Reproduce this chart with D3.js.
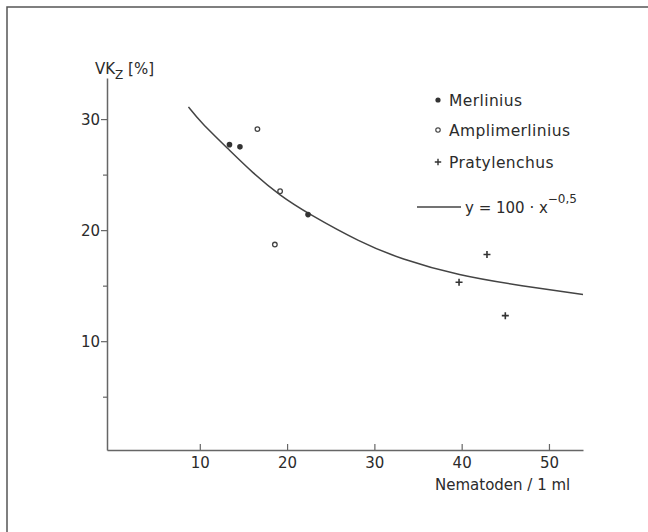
<!DOCTYPE html>
<html>
<head>
<meta charset="utf-8">
<script src="https://cdn.jsdelivr.net/npm/d3@7"></script>
<style>
  body { margin: 0; background: #fff; }
  text { font-family: "DejaVu Sans", sans-serif; fill: #2b2b2b; }
</style>
</head>
<body>
<script>
var width = 648;
var height = 532;

// data
var merlinius = [[13.4, 27.7], [14.6, 27.5], [22.4, 21.4]];
var amplimerlinius = [[16.6, 29.1], [19.2, 23.5], [18.6, 18.7]];
var pratylenchus = [[42.9, 17.8], [39.7, 15.3], [45.0, 12.3]];
// fitted curve y = 100 * x^-0.5 as printed
var curveX = [8.7, 10.0, 13.4, 16.0, 19.2, 22.4, 28.4, 33.0, 39.7, 46.7, 53.9];
var curveY = [31.1, 29.8, 27.2, 25.2, 23.1, 21.5, 18.9, 17.4, 15.9, 15.0, 14.2];
var xTicks = [10, 20, 30, 40, 50];
var yTicks = [5, 10, 15, 20, 25, 30];
var yLabels = [10, 20, 30];
var legendNames = ["Merlinius", "Amplimerlinius", "Pratylenchus"];

var svg = d3.select("body").append("svg")
  .attr("width", width).attr("height", height);

// frame
svg.append("path")
  .attr("d", "M7,532 V7 H648")
  .style("fill", "none").style("stroke", "#555").style("stroke-width", 1.5);

var x = d3.scaleLinear().domain([-0.63, 53.9]).range([107, 583]);
var y = d3.scaleLinear().domain([0.2, 33.7]).range([450, 78]);

// x axis, ticks pointing up
var xAxis = svg.append("g")
  .attr("transform", "translate(0,450)")
  .call(d3.axisBottom(x).tickValues(xTicks).tickSizeInner(-6).tickSizeOuter(0).tickPadding(7));
xAxis.select(".domain").style("stroke", "#666").style("stroke-width", 1.5);
xAxis.selectAll(".tick line").style("stroke", "#666").style("stroke-width", 1.2);
xAxis.selectAll("text").style("font-size", "15px").style("fill", "#2b2b2b")
  .attr("font-family", null);

// y axis
var yAxis = svg.append("g")
  .attr("transform", "translate(107,0)")
  .call(d3.axisLeft(y).tickValues(yTicks).tickSizeOuter(0).tickPadding(3)
    .tickFormat(function (d) { return yLabels.indexOf(d) >= 0 ? d : ""; }));
yAxis.select(".domain").style("stroke", "#666").style("stroke-width", 1.5);
yAxis.selectAll(".tick line")
  .attr("x2", function (d) { return yLabels.indexOf(d) >= 0 ? -6 : -4; })
  .style("stroke", "#666").style("stroke-width", 1.2);
yAxis.selectAll("text").style("font-size", "15px").style("fill", "#2b2b2b")
  .attr("x", -7).attr("dy", "0.36em");

// axis titles
var yt = svg.append("text").attr("x", 95).attr("y", 74).style("font-size", "15px");
yt.append("tspan").text("VK");
yt.append("tspan").attr("dy", 5).style("font-size", "12px").text("Z");
yt.append("tspan").attr("dy", -5).text(" [%]");

svg.append("text").attr("x", 435).attr("y", 490).style("font-size", "15px")
  .text("Nematoden / 1 ml");

// curve
var line = d3.line()
  .x(function (d) { return x(d[0]); })
  .y(function (d) { return y(d[1]); })
  .curve(d3.curveBasis);
svg.append("path")
  .datum(curveX.map(function (v, i) { return [v, curveY[i]]; }))
  .attr("d", line)
  .style("fill", "none").style("stroke", "#444").style("stroke-width", 1.5);

// points
svg.selectAll("circle.merl").data(merlinius).enter().append("circle")
  .attr("class", "merl")
  .attr("cx", function (d) { return x(d[0]); })
  .attr("cy", function (d) { return y(d[1]); })
  .attr("r", 2.8)
  .style("fill", "#333");

svg.selectAll("circle.ampl").data(amplimerlinius).enter().append("circle")
  .attr("class", "ampl")
  .attr("cx", function (d) { return x(d[0]); })
  .attr("cy", function (d) { return y(d[1]); })
  .attr("r", 2.3)
  .style("fill", "#fff").style("stroke", "#444").style("stroke-width", 1.3);

svg.selectAll("path.praty").data(pratylenchus).enter().append("path")
  .attr("class", "praty")
  .attr("d", "M-3.5,0H3.5M0,-3.5V3.5")
  .attr("transform", function (d) { return "translate(" + x(d[0]) + "," + y(d[1]) + ")"; })
  .style("stroke", "#333").style("stroke-width", 1.6);

// legend
var legY = [100, 130, 162];
var leg = svg.selectAll("g.leg").data(legendNames).enter().append("g")
  .attr("class", "leg")
  .attr("transform", function (d, i) { return "translate(438," + legY[i] + ")"; });
leg.append("text").attr("x", 11).attr("dy", "0.36em").style("font-size", "15.5px")
  .style("letter-spacing", "0.4px")
  .text(function (d) { return d; });
leg.filter(function (d, i) { return i === 0; }).append("circle")
  .attr("r", 2.6).style("fill", "#333");
leg.filter(function (d, i) { return i === 1; }).append("circle")
  .attr("r", 2.2).style("fill", "#fff").style("stroke", "#444").style("stroke-width", 1.2);
leg.filter(function (d, i) { return i === 2; }).append("path")
  .attr("d", "M-3.2,0H3.2M0,-3.2V3.2")
  .style("stroke", "#333").style("stroke-width", 1.4);

svg.append("line").attr("x1", 417).attr("x2", 461).attr("y1", 207).attr("y2", 207)
  .style("stroke", "#444").style("stroke-width", 1.4);
var ft = svg.append("text").attr("x", 465).attr("y", 213).style("font-size", "15px");
ft.append("tspan").text("y = 100 · x");
ft.append("tspan").attr("dy", -10).style("font-size", "12px").text("−0,5");
</script>
</body>
</html>
